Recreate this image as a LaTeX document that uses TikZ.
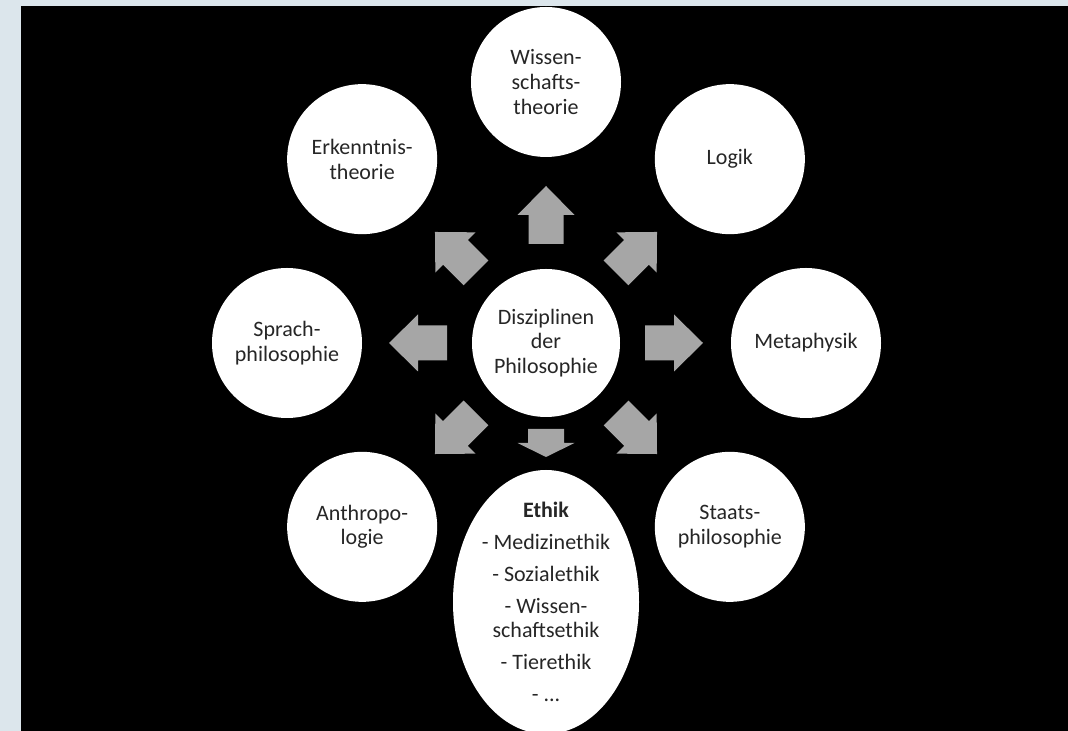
\documentclass[tikz,border=0pt]{standalone}
\usepackage{fontspec}
\setmainfont{Carlito}
\usetikzlibrary{calc}
\usetikzlibrary{shapes.geometric}

\definecolor{pagebg}{HTML}{DCE6EC}
\definecolor{arrowgray}{HTML}{A6A6A6}

\tikzset{
  pics/blockarrow/.style={code={
    \fill[arrowgray] (0,-17.5) -- (29,-17.5) -- (29,-28.5) -- (58,0)
      -- (29,28.5) -- (29,17.5) -- (0,17.5) -- cycle;}},
  pics/shortarrow/.style={code={
    \fill[arrowgray] (0,-18) -- (14,-18) -- (14,-28.5) -- (28,0)
      -- (14,28.5) -- (14,18) -- (0,18) -- cycle;}}
}

\begin{document}
\begin{tikzpicture}[x=0.75pt, y=0.75pt]

\tikzstyle{disc}=[circle, fill=white, minimum size=112.5pt, inner sep=0pt,
align=center, text=black!85, font=\fontsize{16.5}{18.5}\selectfont]
\tikzstyle{hub}=[disc, minimum size=111pt]
\tikzstyle{oval}=[ellipse, fill=white, minimum width=139.5pt,
minimum height=198pt, inner sep=0pt]
\tikzstyle{ovaltext}=[align=center, text=black!85, inner sep=0pt,
font=\fontsize{16.5}{18.5}\selectfont]

\useasboundingbox (0,0) rectangle (1068,731);
\clip (0,0) rectangle (1068,731);
\fill[pagebg] (0,0) rectangle (1068,731);
\fill[black] (21,0) rectangle (1068,725);

\node[hub] (center) at (546,388) {Disziplinen\\der\\Philosophie};

\node[disc] (wiss) at ($(center)+(90:261)$) {Wissen-\\schafts-\\theorie};
\node[disc] (erkenntnis) at ($(center)+(135:260)$) {Erkenntnis-\\theorie};
\node[disc] (logik) at ($(center)+(45:260)$) {Logik};
\node[disc] (sprache) at ($(center)+(180:259)$) {Sprach-\\philosophie};
\node[disc] (metaphysik) at ($(center)+(0:260)$) {Metaphysik};
\node[disc] (anthro) at ($(center)+(225:260)$) {Anthropo-\\logie};
\node[disc] (staat) at ($(center)+(315:260)$) {Staats-\\philosophie};

\node[oval] (ethik) at ($(center)+(0,-259)$) {};
\node[ovaltext] (ethiktext) at (ethik.center) {\textbf{Ethik}\\[5.5pt]
- Medizinethik\\[5.5pt]
- Sozialethik\\[5.5pt]
- Wissen-\\schaftsethik\\[5.5pt]
- Tierethik\\[5.5pt]
- ...};

% block arrows round the hub
\foreach \ang in {0,45,90,135,180,225,315}
  \pic[rotate=\ang] at ($(center)+(\ang:99)$) {blockarrow};
\pic[rotate=270] at ($(center)+(270:86)$) {shortarrow};

\end{tikzpicture}
\end{document}
